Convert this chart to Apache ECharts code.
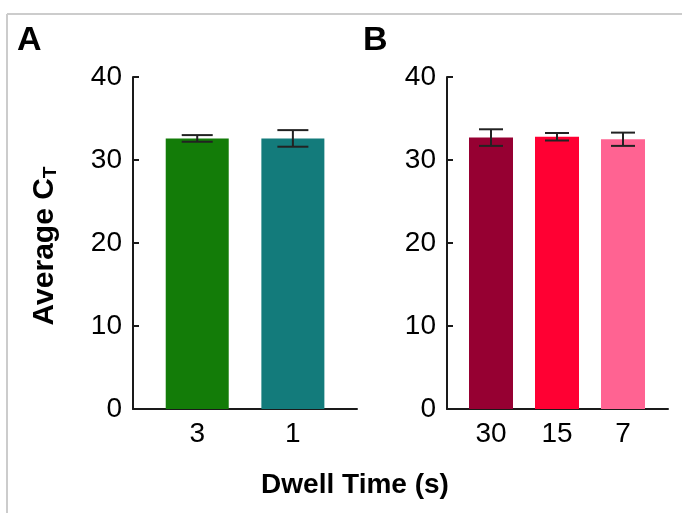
<!DOCTYPE html>
<html>
<head>
<meta charset="utf-8">
<script src="https://cdn.jsdelivr.net/npm/echarts@6/dist/echarts.min.js"></script>
<style>
  html, body { margin: 0; padding: 0; background: #fff; }
  #chart { width: 682px; height: 513px; }
</style>
</head>
<body>
<div id="chart"></div>
<script>
// Panel A: dwell times 3 s and 1 s
const catsA = ['3', '1'];
const meanA = [32.6, 32.6];
const errA = [0.4, 1.0];
const colorsA = ['#137c08', '#137b7b'];

// Panel B: dwell times 30 s, 15 s and 7 s
const catsB = ['30', '15', '7'];
const meanB = [32.7, 32.8, 32.5];
const errB = [1.0, 0.45, 0.8];
const colorsB = ['#960032', '#ff0033', '#ff6392'];

const yTicks = [0, 10, 20, 30, 40];

const FONT = 'Liberation Sans, Arial, sans-serif';
const AX = '#1a1a1a';

function valueAxis(gridIndex, visible) {
  return {
    type: 'value', gridIndex: gridIndex, min: yTicks[0], max: yTicks[yTicks.length - 1], interval: 10,
    show: visible,
    axisLine: { show: true, lineStyle: { color: AX, width: 2 } },
    axisTick: { show: true, inside: true, length: 6, lineStyle: { color: AX, width: 2 } },
    axisLabel: { fontSize: 28, color: '#000', fontFamily: FONT, margin: 11 },
    splitLine: { show: false }
  };
}

function frameAxis(gridIndex, cats) {
  return {
    type: 'category', gridIndex: gridIndex, data: cats,
    axisLine: { show: true, lineStyle: { color: AX, width: 2 } },
    axisTick: { show: false }, axisLabel: { show: false }
  };
}

function labelAxis(gridIndex, cats) {
  return {
    type: 'category', gridIndex: gridIndex, data: cats,
    axisLine: { show: false }, axisTick: { show: false },
    axisLabel: { fontSize: 28, color: '#000', fontFamily: FONT, margin: 11 }
  };
}

function errorSeries(xi, yi, means, errs, capHalf) {
  return {
    type: 'custom', xAxisIndex: xi, yAxisIndex: yi, z: 10,
    data: means.map((m, i) => [i, m - errs[i], m + errs[i]]),
    renderItem: function (params, api) {
      const lo = api.coord([api.value(0), api.value(1)]);
      const hi = api.coord([api.value(0), api.value(2)]);
      const st = { stroke: '#222', lineWidth: 2 };
      return {
        type: 'group', children: [
          { type: 'line', shape: { x1: lo[0], y1: lo[1], x2: hi[0], y2: hi[1] }, style: st },
          { type: 'line', shape: { x1: lo[0] - capHalf, y1: lo[1], x2: lo[0] + capHalf, y2: lo[1] }, style: st },
          { type: 'line', shape: { x1: hi[0] - capHalf, y1: hi[1], x2: hi[0] + capHalf, y2: hi[1] }, style: st }
        ]
      };
    }
  };
}

const chart = echarts.init(document.getElementById('chart'), null, { renderer: 'canvas' });
chart.setOption({
  animation: false,
  backgroundColor: '#fff',
  grid: [
    { left: 133, top: 77, width: 224, height: 332 },   // panel A frame
    { left: 149.4, top: 77, width: 191.3, height: 332 }, // panel A bars
    { left: 447, top: 77, width: 221, height: 332 },   // panel B frame
    { left: 458, top: 77, width: 198, height: 332 }    // panel B bars
  ],
  xAxis: [frameAxis(0, catsA), labelAxis(1, catsA), frameAxis(2, catsB), labelAxis(3, catsB)],
  yAxis: [valueAxis(0, true), valueAxis(1, false), valueAxis(2, true), valueAxis(3, false)],
  series: [
    {
      type: 'bar', xAxisIndex: 1, yAxisIndex: 1, barWidth: 63,
      data: meanA.map((v, i) => ({ value: v, itemStyle: { color: colorsA[i] } }))
    },
    errorSeries(1, 1, meanA, errA, 15.5),
    {
      type: 'bar', xAxisIndex: 3, yAxisIndex: 3, barWidth: 44,
      data: meanB.map((v, i) => ({ value: v, itemStyle: { color: colorsB[i] } }))
    },
    errorSeries(3, 3, meanB, errB, 12)
  ],
  graphic: [
    { type: 'line', shape: { x1: 7, y1: 14, x2: 682, y2: 14 }, style: { stroke: '#cccccc', lineWidth: 2 } },
    { type: 'line', shape: { x1: 7, y1: 14, x2: 7, y2: 513 }, style: { stroke: '#cccccc', lineWidth: 2 } },
    { type: 'text', left: 17, top: 24, style: { text: 'A', font: 'bold 34px ' + FONT, fill: '#000' } },
    { type: 'text', left: 363, top: 24, style: { text: 'B', font: 'bold 34px ' + FONT, fill: '#000' } },
    {
      type: 'text', x: 45, y: 246, rotation: Math.PI / 2,
      style: {
        text: '{m|Average C}{s|T}', align: 'center', verticalAlign: 'middle',
        rich: {
          m: { font: 'bold 30px ' + FONT, fill: '#000' },
          s: { font: 'bold 19px ' + FONT, fill: '#000', verticalAlign: 'bottom', padding: [12, 0, 0, 0] }
        }
      }
    },
    {
      type: 'text', x: 355, y: 485,
      style: { text: 'Dwell Time (s)', font: 'bold 28px ' + FONT, fill: '#000', align: 'center', verticalAlign: 'middle' }
    }
  ]
});
</script>
</body>
</html>
